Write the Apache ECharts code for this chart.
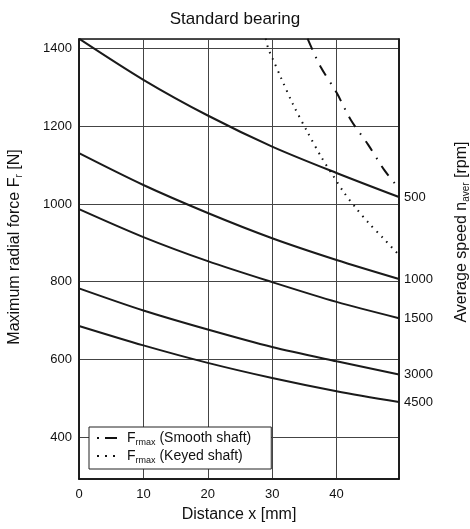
<!DOCTYPE html>
<html>
<head>
<meta charset="utf-8">
<script src="https://cdn.jsdelivr.net/npm/echarts@6/dist/echarts.min.js"></script>
<style>html,body{margin:0;padding:0;background:#fff}#c{width:470px;height:529px}</style>
</head>
<body>
<div id="c"></div>
<script>
// Distance x [mm] sample points for speed curves
var xs = [0, 10, 20, 30, 40, 49.7];
var speedNames = ['500', '1000', '1500', '3000', '4500'];
var curve500  = [1426, 1320, 1228, 1148, 1080, 1018];
var curve1000 = [1131, 1049, 977, 912, 856, 807];
var curve1500 = [987, 915, 853, 799, 748, 706];
var curve3000 = [783, 726, 677, 632, 595, 561];
var curve4500 = [686, 636, 591, 552, 518, 490];
// Frmax smooth shaft
var smoothX = [35.5, 37.5, 40, 42.2, 44.9, 47.4, 49.5];
var smoothY = [1426, 1354, 1287, 1217, 1153, 1088, 1044];
// Frmax keyed shaft
var keyedX = [29, 29.4, 30, 31.3, 33.2, 35.4, 37.7, 39.4, 41.1, 43, 45, 47.2, 49.4];
var keyedY = [1426, 1400, 1377, 1328, 1258, 1188, 1119, 1075, 1031, 990, 951, 913, 874];

function pairs(x, y) { return x.map(function (v, i) { return [v, y[i]]; }); }

var FONT = 'Liberation Sans, Arial, Helvetica, sans-serif';
var curves = [curve500, curve1000, curve1500, curve3000, curve4500];
var series = curves.map(function (c, i) {
  return {
    name: speedNames[i], type: 'line', data: pairs(xs, c), smooth: 0.3,
    symbol: 'none', itemStyle: { color: '#111' }, lineStyle: { color: '#1a1a1a', width: 2 },
    endLabel: { show: true, formatter: speedNames[i], color: '#111', fontSize: 13, fontFamily: FONT, distance: 5 },
    emphasis: { disabled: true }, silent: true, z: 3
  };
});
series.push({
  name: 'Smooth', type: 'line', data: pairs(smoothX, smoothY), smooth: 0.3, symbol: 'none',
  itemStyle: { color: '#111' },
  lineStyle: { color: '#111', width: 2, type: [12, 8, 1.5, 8] }, silent: true, z: 4
});
series.push({
  name: 'Keyed', type: 'line', data: pairs(keyedX, keyedY), smooth: 0.3, symbol: 'none',
  itemStyle: { color: '#111' },
  lineStyle: { color: '#111', width: 2, type: [1.5, 5.5] }, silent: true, z: 4
});

var chart = echarts.init(document.getElementById('c'), null, { renderer: 'canvas' });
chart.setOption({
  animation: false,
  backgroundColor: '#fff',
  textStyle: { fontFamily: FONT },
  title: {
    text: 'Standard bearing', left: 'center', top: 6,
    textStyle: { fontSize: 17, fontWeight: 'normal', color: '#111', fontFamily: FONT }
  },
  grid: { left: 79, right: 71, top: 39, bottom: 50, show: true, borderColor: '#111', borderWidth: 1.5,
          containLabel: false, outerBoundsMode: 'none' },
  legend: {
    orient: 'vertical', left: 89, top: 427,
    data: [
      { name: 'Smooth', itemStyle: { color: 'rgba(0,0,0,0)', borderWidth: 0 }, lineStyle: { type: [2, 6, 12, 0], width: 2, color: '#111' } },
      { name: 'Keyed', itemStyle: { color: 'rgba(0,0,0,0)', borderWidth: 0 }, lineStyle: { type: [2, 6], width: 2, color: '#111' } }
    ],
    backgroundColor: '#fff', borderColor: '#222', borderWidth: 1,
    padding: [4, 20, 4, 7], itemGap: 2, itemWidth: 20, itemHeight: 14,
    selectedMode: false,
    formatter: function (n) {
      return n === 'Smooth' ? '{g|}{n|F}{s|rmax}{n| (Smooth shaft)}' : '{g|}{n|F}{s|rmax}{n| (Keyed shaft)}';
    },
    textStyle: {
      color: '#111', fontFamily: FONT,
      rich: {
        g: { width: 5 },
        n: { fontSize: 14, color: '#111', fontFamily: FONT },
        s: { fontSize: 9, color: '#111', fontFamily: FONT, padding: [9, 0, 0, 0] }
      }
    }
  },
  xAxis: {
    type: 'value', min: 0, max: 49.7, interval: 10,
    name: 'Distance x [mm]', nameLocation: 'middle', nameGap: 28,
    nameTextStyle: { fontSize: 16, color: '#111', fontFamily: FONT },
    axisLine: { show: true, lineStyle: { color: '#111', width: 1.5 } },
    axisTick: { show: false },
    axisLabel: { fontSize: 13, color: '#111', margin: 9, showMaxLabel: false, fontFamily: FONT },
    splitLine: { show: true, lineStyle: { color: '#444', width: 1 } }
  },
  yAxis: [{
    type: 'value', min: 292, max: 1425, splitNumber: 5,
    name: '{n|Maximum radial force F}{s|r}{n| [N]}', nameLocation: 'middle', nameGap: 55, nameRotate: 90,
    nameTextStyle: {
      color: '#111', fontFamily: FONT, padding: [0, 0, 0, 24],
      rich: {
        n: { fontSize: 16, color: '#111', fontFamily: FONT },
        s: { fontSize: 10, color: '#111', fontFamily: FONT, padding: [9, 0, 0, 0] }
      }
    },
    axisLine: { show: true, lineStyle: { color: '#111', width: 1.5 } },
    axisTick: { show: false },
    axisLabel: { fontSize: 13, color: '#111', margin: 7, showMinLabel: false, showMaxLabel: false, fontFamily: FONT,
                 formatter: function (v) { return String(v); } },
    splitLine: { show: true, lineStyle: { color: '#444', width: 1 } }
  }, {
    type: 'value', min: 292, max: 1425, position: 'right',
    name: '{n|Average speed n}{s|aver}{n| [rpm]}', nameLocation: 'middle', nameGap: 53, nameRotate: 90,
    nameTextStyle: {
      color: '#111', fontFamily: FONT, padding: [0, 0, 0, 54],
      rich: {
        n: { fontSize: 16, color: '#111', fontFamily: FONT },
        s: { fontSize: 10, color: '#111', fontFamily: FONT, padding: [9, 0, 0, 0] }
      }
    },
    axisLine: { show: true, lineStyle: { color: '#111', width: 1.5 } },
    axisTick: { show: false }, axisLabel: { show: false }, splitLine: { show: false }
  }],
  series: series
});
</script>
</body>
</html>
